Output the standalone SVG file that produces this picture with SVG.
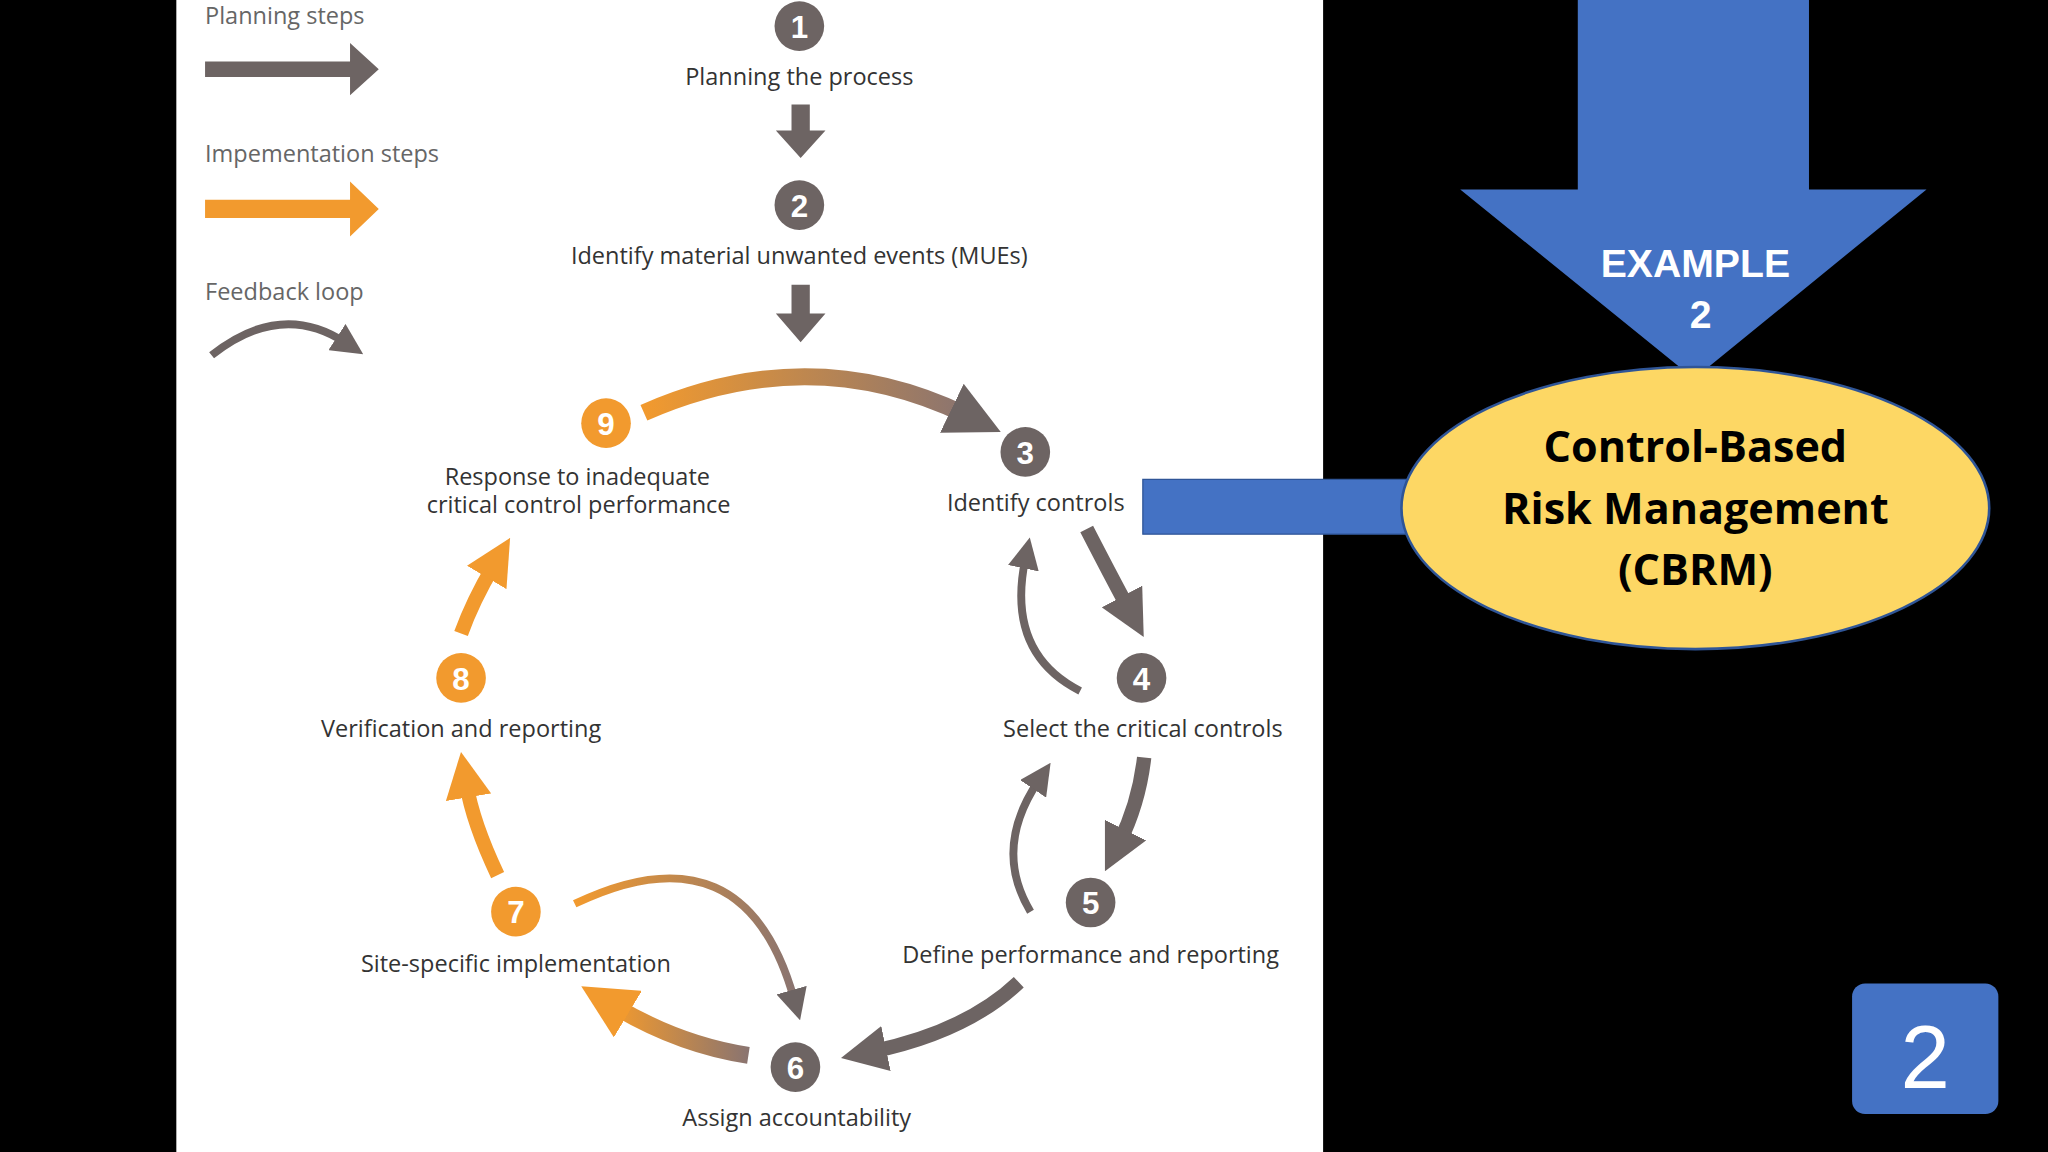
<svg xmlns="http://www.w3.org/2000/svg" width="2048" height="1152" viewBox="0 0 2048 1152">
<defs>
<style>
.t{font-family:"Open Sans","Liberation Sans",sans-serif;font-size:18px;fill:#333}
.lg{font-family:"Open Sans","Liberation Sans",sans-serif;font-size:18px;fill:#666}
.n{font-family:"Liberation Sans",sans-serif;font-size:24px;font-weight:bold;fill:#fff;text-anchor:middle}
.g{fill:#6d6463}.o{fill:#f29a2e}
.gs{fill:none;stroke:#6d6463;stroke-width:11}
.os{fill:none;stroke:#f29a2e;stroke-width:11}
</style>
<marker id="hg" viewBox="0 0 10 10" refX="3" refY="5" markerWidth="3.2" markerHeight="3.2" orient="auto"><path d="M0,0L10,5L0,10z" fill="#6d6463"/></marker>
<marker id="ho" viewBox="0 0 10 10" refX="3" refY="5" markerWidth="3.2" markerHeight="3.2" orient="auto"><path d="M0,0L10,5L0,10z" fill="#f29a2e"/></marker>
<marker id="hf" viewBox="0 0 10 10" refX="3" refY="5" markerWidth="4" markerHeight="4" orient="auto"><path d="M0,0L10,5L0,10z" fill="#6d6463"/></marker>
<linearGradient id="og" x1="0" x2="1"><stop offset="0" stop-color="#f29a2e"/><stop offset="1" stop-color="#8a7470"/></linearGradient>
<linearGradient id="og2" x1="1" x2="0"><stop offset="0" stop-color="#8a7470"/><stop offset="1" stop-color="#f29a2e"/></linearGradient>
</defs>
<rect width="2048" height="1152" fill="#000"/>
<g transform="scale(1.30612)">
<rect x="135" y="0" width="878" height="882" fill="#fff"/>
<g id="legend">
<text class="lg" x="157" y="18">Planning steps</text>
<path d="M157,47H268V33L290,53L268,73V59H157z" class="g"/>
<text class="lg" x="157" y="124">Impementation steps</text>
<path d="M157,153H268V139L290,160L268,181V167H157z" class="o"/>
<text class="lg" x="157" y="230">Feedback loop</text>
<path d="M162,272Q215,230 264,262" fill="none" stroke="#6d6463" stroke-width="6" marker-end="url(#hf)"/>
</g>
<g id="connectors">
<path d="M606,80H620V100H632L613,121L594,100H606z" class="g"/>
<path d="M606,218H620V240H632L613,262L594,240H606z" class="g"/>
<path d="M493,316Q620,260 740,318" fill="none" stroke="url(#og)" stroke-width="13" marker-end="url(#hg)"/>
<path d="M832,405Q850,440 864,466" class="gs" marker-end="url(#hg)"/>
<path d="M827,529Q770,500 785,428" fill="none" stroke="#6d6463" stroke-width="6" marker-end="url(#hf)"/>
<path d="M876,580Q872,615 857,645" class="gs" marker-end="url(#hg)"/>
<path d="M789,698Q760,650 795,598" fill="none" stroke="#6d6463" stroke-width="6" marker-end="url(#hf)"/>
<path d="M780,752Q740,790 668,805" class="gs" marker-end="url(#hg)"/>
<path d="M440,692Q570,630 608,765" fill="none" stroke="url(#og)" stroke-width="6" marker-end="url(#hf)"/>
<path d="M573,808Q520,800 470,770" fill="none" stroke="url(#og2)" stroke-width="13" marker-end="url(#ho)"/>
<path d="M381,670Q362,630 357,600" class="os" marker-end="url(#ho)"/>
<path d="M353,485Q362,460 378,433" class="os" marker-end="url(#ho)"/>
<path d="M875,367H1092V347L1132,389L1092,431V409H875z" fill="#4472c4" stroke="#2f5597" stroke-width="1"/>
</g>
<g id="n1"><circle cx="612" cy="20" r="19" class="g"/><text class="n" x="612" y="29">1</text><text class="t" x="612" y="65" text-anchor="middle">Planning the process</text></g>
<g id="n2"><circle cx="612" cy="157" r="19" class="g"/><text class="n" x="612" y="166">2</text><text class="t" x="612" y="202" text-anchor="middle">Identify material unwanted events (MUEs)</text></g>
<g id="n3"><circle cx="785" cy="346" r="19" class="g"/><text class="n" x="785" y="355">3</text><text class="t" x="793" y="391" text-anchor="middle">Identify controls</text></g>
<g id="n4"><circle cx="874" cy="519" r="19" class="g"/><text class="n" x="874" y="528">4</text><text class="t" x="875" y="564" text-anchor="middle">Select the critical controls</text></g>
<g id="n5"><circle cx="835" cy="691" r="19" class="g"/><text class="n" x="835" y="700">5</text><text class="t" x="835" y="737" text-anchor="middle">Define performance and reporting</text></g>
<g id="n6"><circle cx="609" cy="817" r="19" class="g"/><text class="n" x="609" y="826">6</text><text class="t" x="610" y="862" text-anchor="middle">Assign accountability</text></g>
<g id="n7"><circle cx="395" cy="698" r="19" class="o"/><text class="n" x="395" y="707">7</text><text class="t" x="395" y="744" text-anchor="middle">Site-specific implementation</text></g>
<g id="n8"><circle cx="353" cy="519" r="19" class="o"/><text class="n" x="353" y="528">8</text><text class="t" x="353" y="564" text-anchor="middle">Verification and reporting</text></g>
<g id="n9"><circle cx="464" cy="324" r="19" class="o"/><text class="n" x="464" y="333">9</text><text class="t" x="442" y="371" text-anchor="middle">Response to inadequate</text><text class="t" x="443" y="393" text-anchor="middle">critical control performance</text></g>
<g id="example">
<path d="M1208,0H1385V145H1475L1297,290L1118,145H1208z" fill="#4472c4"/>
<text x="1298" y="212" font-family="Liberation Sans,sans-serif" font-size="30" font-weight="bold" fill="#fff" text-anchor="middle">EXAMPLE</text>
<text x="1302" y="251" font-family="Liberation Sans,sans-serif" font-size="30" font-weight="bold" fill="#fff" text-anchor="middle">2</text>
</g>
<g id="cbrm">
<ellipse cx="1298" cy="389" rx="225" ry="108" fill="#fdd764" stroke="#2f5597" stroke-width="2"/>
<g font-family="Open Sans,Liberation Sans,sans-serif" font-size="33" font-weight="bold" fill="#000" text-anchor="middle">
<text x="1298" y="354">Control-Based</text><text x="1298" y="401">Risk Management</text><text x="1298" y="448">(CBRM)</text></g>
</g>
<g id="badge"><rect x="1418" y="753" width="112" height="100" rx="10" fill="#4472c4"/><text x="1474" y="833" font-family="Liberation Sans,sans-serif" font-size="68" fill="#fff" text-anchor="middle">2</text></g>
</g>
</svg>
